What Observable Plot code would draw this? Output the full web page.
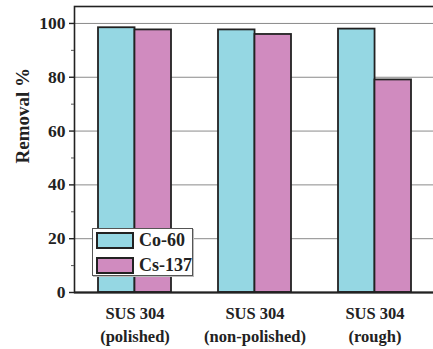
<!DOCTYPE html>
<html>
<head>
<meta charset="utf-8">
<script src="https://cdn.jsdelivr.net/npm/d3@7"></script>
<script src="https://cdn.jsdelivr.net/npm/@observablehq/plot@0.6"></script>
<style>
  html, body { margin: 0; padding: 0; background: #fff; overflow: hidden; }
  #wrap { position: relative; width: 433px; height: 349px; }
  #legend {
    position: absolute; left: 92px; top: 228px; width: 99px; height: 46px;
    border: 1px solid #555; background: #fff; box-shadow: 1px 1px 0 #bbb;
    font: bold 18px "Liberation Serif", "DejaVu Serif", serif; color: #222;
  }
  .row { position: absolute; left: 3px; height: 17px; display: flex; align-items: center; }
  .sw { width: 34px; height: 13px; border: 2px solid #222; margin-right: 5px; }
</style>
</head>
<body>
<div id="wrap"></div>
<script>
const categories = ["polished", "non-polished", "rough"];
const categoryLabels = ["SUS 304\n(polished)", "SUS 304\n(non-polished)", "SUS 304\n(rough)"];
const series = ["Co-60", "Cs-137"];
const co60 = [98.4, 97.6, 97.9];
const cs137 = [97.6, 95.9, 79.0];
const colors = ["#95d7e3", "#d08bbf"];
const majorTicks = [0, 20, 40, 60, 80, 100];
const minorTicks = [10, 30, 50, 70, 90];
const yMax = 106.3;

const data = [];
categories.forEach((c, i) => {
  data.push({category: c, series: series[0], value: co60[i]});
  data.push({category: c, series: series[1], value: cs137[i]});
});

const width = 433, height = 349;
const marginLeft = 74, marginRight = -2.5;
const padInner = 0.395, padOuter = 0.1975;
const step = (width - marginRight - marginLeft) / (categories.length - padInner + 2 * padOuter);
const half = step * (1 - padInner) / 2;

const font = '"Liberation Serif", "DejaVu Serif", serif';

const plot = Plot.plot({
  width, height,
  marginLeft, marginRight,
  marginTop: 6, marginBottom: 57,
  style: {fontFamily: font, fontWeight: "bold", color: "#222", background: "#fff"},
  x: {domain: categories, paddingInner: padInner, paddingOuter: padOuter, label: null},
  y: {domain: [0, yMax], label: null},
  color: {domain: series, range: colors},
  marks: [
    Plot.gridY(majorTicks.slice(1), {stroke: "#8a8a8a", strokeOpacity: 1, strokeWidth: 1}),
    Plot.barY(data.filter(d => d.series === series[0]), {x: "category", y: "value", fill: "series", stroke: "#222", strokeWidth: 1.8, insetRight: half}),
    Plot.barY(data.filter(d => d.series === series[1]), {x: "category", y: "value", fill: "series", stroke: "#222", strokeWidth: 1.8, insetLeft: half}),
    Plot.frame({stroke: "#222", strokeWidth: 1.6}),
    Plot.ruleY([0], {stroke: "#222", strokeWidth: 2.2}),
    Plot.axisY(majorTicks, {tickSize: 5, tickPadding: 4, fontSize: 17.5, label: null, stroke: "#222", strokeWidth: 1.4}),
    Plot.axisY(minorTicks, {tickSize: 3, tickFormat: () => "", label: null, stroke: "#555", strokeWidth: 1}),
    Plot.axisX({tickSize: 0, tickPadding: 11, fontSize: 16.5, lineHeight: 1.36, label: null,
      tickFormat: d => categoryLabels[categories.indexOf(d)]}),
    Plot.text(["Removal %"], {frameAnchor: "left", rotate: -90, dx: -52, dy: 14, fontSize: 19, fontWeight: "bold", fill: "#222"})
  ]
});

const wrap = document.getElementById("wrap");
wrap.appendChild(plot);

const legend = document.createElement("div");
legend.id = "legend";
series.forEach((s, i) => {
  const row = document.createElement("div");
  row.className = "row";
  row.style.top = (i === 0 ? 3 : 28) + "px";
  const sw = document.createElement("div");
  sw.className = "sw";
  sw.style.background = colors[i];
  const t = document.createElement("span");
  t.textContent = s;
  row.appendChild(sw);
  row.appendChild(t);
  legend.appendChild(row);
});
wrap.appendChild(legend);
</script>
</body>
</html>
